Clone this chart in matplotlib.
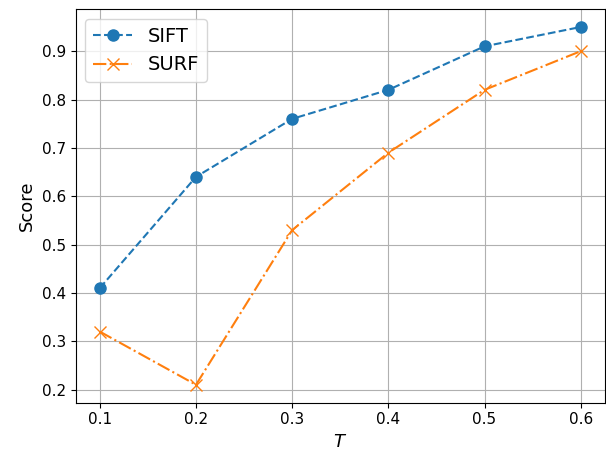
import matplotlib
matplotlib.use('Agg')
import matplotlib.pyplot as plt

thresholds = [0.1, 0.2, 0.3, 0.4, 0.5, 0.6]
sift_scores = [0.41, 0.64, 0.76, 0.82, 0.91, 0.95]
surf_scores = [0.32, 0.21, 0.53, 0.69, 0.82, 0.90]

fig, ax = plt.subplots(figsize=(6.06, 4.55), dpi=100)
ax.plot(thresholds, sift_scores, 'o--', markersize=8, label='SIFT')
ax.plot(thresholds, surf_scores, 'x-.', markersize=9, label='SURF')
ax.set_xlabel('$T$', fontsize=13)
ax.set_ylabel('Score', fontsize=13)
ax.tick_params(labelsize=11)
ax.grid(True)
ax.legend(fontsize=14)
plt.subplots_adjust(left=0.125, right=0.998, top=0.98, bottom=0.115)
plt.savefig('out.png', dpi=100)
